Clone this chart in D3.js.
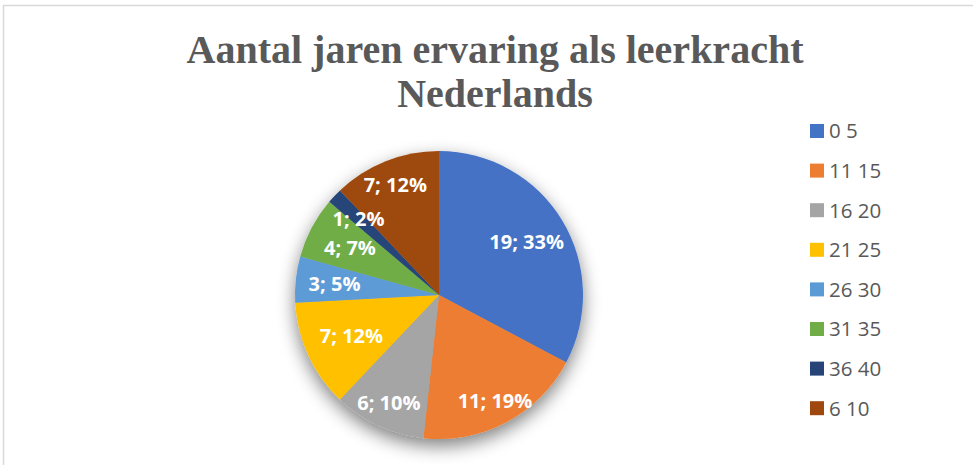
<!DOCTYPE html>
<html>
<head>
<meta charset="utf-8">
<script src="https://cdn.jsdelivr.net/npm/d3@7"></script>
<style>
body { margin: 0; background: #fff; }
</style>
</head>
<body>
<script>
// data
var categories = ["0 5", "11 15", "16 20", "21 25", "26 30", "31 35", "36 40", "6 10"];
var counts = [19, 11, 6, 7, 3, 4, 1, 7];
var colors = ["#4472C4", "#ED7D31", "#A5A5A5", "#FFC000", "#5B9BD5", "#70AD47", "#264478", "#9E480E"];
var titleLines = ["Aantal jaren ervaring als leerkracht", "Nederlands"];

var width = 973, height = 465;
var cx = 439, cy = 295, r = 144;
// label distance from centre, as fraction of radius (excel best fit)
var labelR = [0.71, 0.83, 0.83, 0.67, 0.73, 0.70, 0.77, 0.82];

var svg = d3.select("body")
	.append("svg")
	.attr("width", width)
	.attr("height", height);

var defs = svg.append("defs");
var f = defs.append("filter")
	.attr("id", "shadow")
	.attr("x", "-30%").attr("y", "-30%")
	.attr("width", "160%").attr("height", "160%");
f.append("feGaussianBlur").attr("in", "SourceAlpha").attr("stdDeviation", 9).attr("result", "b");
f.append("feOffset").attr("in", "b").attr("dx", 0).attr("dy", 7).attr("result", "o");
f.append("feComponentTransfer").attr("in", "o").attr("result", "s")
	.append("feFuncA").attr("type", "linear").attr("slope", 0.5);
var m = f.append("feMerge");
m.append("feMergeNode").attr("in", "s");
m.append("feMergeNode").attr("in", "SourceGraphic");

// chart border
svg.append("rect")
	.attr("x", 3.5).attr("y", 5.5)
	.attr("width", 1000).attr("height", 500)
	.attr("fill", "none")
	.attr("stroke", "#d9d9d9")
	.attr("stroke-width", 1.5);

// title
svg.append("text")
	.attr("x", 495)
	.attr("text-anchor", "middle")
	.attr("font-family", "'Liberation Serif', 'Times New Roman', serif")
	.attr("font-weight", "bold")
	.attr("font-size", "40px")
	.attr("fill", "#595959")
	.selectAll("tspan")
	.data(titleLines)
	.join("tspan")
	.attr("x", 495)
	.attr("y", function (d, i) { return 63 + i * 44; })
	.text(function (d) { return d; });

var total = d3.sum(counts);
var pie = d3.pie().sort(null).value(function (d) { return d; });
var arcs = pie(counts);
var arc = d3.arc().innerRadius(0).outerRadius(r);

var g = svg.append("g")
	.attr("transform", "translate(" + cx + "," + cy + ")");

g.append("g")
	.attr("filter", "url(#shadow)")
	.selectAll("path")
	.data(arcs)
	.join("path")
	.attr("d", arc)
	.attr("fill", function (d, i) { return colors[i]; });

g.selectAll("text.lbl")
	.data(arcs)
	.join("text")
	.attr("class", "lbl")
	.attr("transform", function (d, i) {
		var a = (d.startAngle + d.endAngle) / 2;
		var rr = r * labelR[i];
		return "translate(" + (Math.sin(a) * rr) + "," + (-Math.cos(a) * rr) + ")";
	})
	.attr("text-anchor", "middle")
	.attr("dy", "0.35em")
	.attr("font-family", "'Open Sans', sans-serif")
	.attr("font-weight", "bold")
	.attr("font-size", "20px")
	.attr("fill", "#fff")
	.text(function (d) { return d.data + "; " + Math.round(d.data / total * 100) + "%"; });

// legend
var leg = svg.append("g")
	.attr("transform", "translate(810,131)");
var item = leg.selectAll("g")
	.data(categories)
	.join("g")
	.attr("transform", function (d, i) { return "translate(0," + (i * 39.6) + ")"; });
item.append("rect")
	.attr("x", 0).attr("y", -7)
	.attr("width", 14).attr("height", 14)
	.attr("fill", function (d, i) { return colors[i]; });
item.append("text")
	.attr("x", 19)
	.attr("dy", "0.36em")
	.attr("font-family", "'Open Sans', sans-serif")
	.attr("font-size", "20.5px")
	.attr("fill", "#595959")
	.text(function (d) { return d; });
</script>
</body>
</html>
